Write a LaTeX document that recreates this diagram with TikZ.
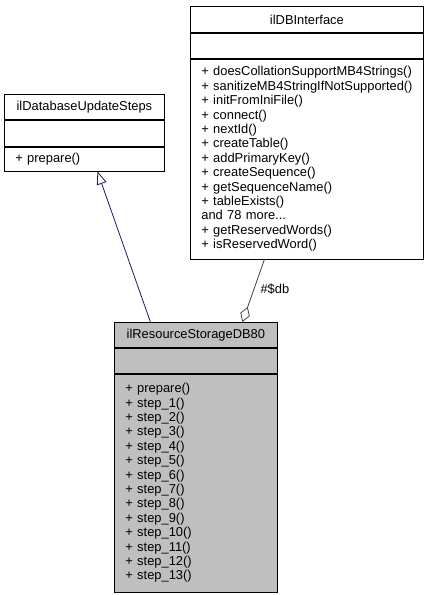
\documentclass[tikz,border=0pt]{standalone}
\usepackage{fontspec}
\setmainfont{Liberation Sans}
\usetikzlibrary{positioning,arrows.meta}
\definecolor{midnight}{HTML}{191970}
\definecolor{aggrgray}{HTML}{404040}
\definecolor{classfill}{HTML}{BFBFBF}
\newcommand{\rowh}{25pt}

\begin{document}
\begin{tikzpicture}[x=1pt,y=-1pt,
    font=\fontsize{12.9}{14.4}\selectfont,
    cls/.style={draw=black, line width=0.8pt, rectangle, inner sep=0pt, anchor=north west, fill=white},
    title/.style={cls, minimum height=\rowh, align=center},
    ops/.style={cls, align=left, inner xsep=11pt},
    inherit/.style={draw=midnight, line width=0.8pt, -{Triangle[open, length=13pt, width=10pt]}},
    aggr/.style={draw=aggrgray, line width=0.8pt, -{Diamond[open, length=16pt, width=10pt]}}]
    \useasboundingbox (0,0) rectangle (431,595);

    % ilDatabaseUpdateSteps
    \node[title, minimum width=160, minimum height=25] (steps-title) at (4,94) {ilDatabaseUpdateSteps};
    \node[cls, minimum width=160, minimum height=26, below=0pt of steps-title] (steps-attr) {};
    \node[ops, text width=138pt, minimum height=24, below=0pt of steps-attr] (steps-ops) {+ prepare()};

    % ilDBInterface
    \node[title, minimum width=233, minimum height=26] (db-title) at (190,6) {ilDBInterface};
    \node[cls, minimum width=233, minimum height=25, below=0pt of db-title] (db-attr) {};
    \node[ops, text width=211pt, minimum height=200, below=0pt of db-attr] (db-ops) {%
        + doesCollationSupportMB4Strings()\\
        \mbox{+ sanitizeMB4StringIfNotSupported()}\\
        + initFromIniFile()\\
        + connect()\\
        + nextId()\\
        + createTable()\\
        + addPrimaryKey()\\
        + createSequence()\\
        + getSequenceName()\\
        + tableExists()\\
        and 78 more...\\
        + getReservedWords()\\
        + isReservedWord()};

    % ilResourceStorageDB80
    \node[title, fill=classfill, minimum width=163] (res-title) at (114,322) {ilResourceStorageDB80};
    \node[cls, fill=classfill, minimum width=163, minimum height=25, below=0pt of res-title] (res-attr) {};
    \node[ops, fill=classfill, text width=141pt, minimum height=218, below=0pt of res-attr] (res-ops) {%
        + prepare()\\
        + step\_1()\\
        + step\_2()\\
        + step\_3()\\
        + step\_4()\\
        + step\_5()\\
        + step\_6()\\
        + step\_7()\\
        + step\_8()\\
        + step\_9()\\
        + step\_10()\\
        + step\_11()\\
        + step\_12()\\
        + step\_13()};

    % connectors
    \draw[inherit] ([xshift=-45.5pt]res-title.north) -- ([xshift=13pt]steps-ops.south);
    \draw[aggr] ([xshift=-42.5pt]db-ops.south) -- node[right=3pt, pos=0.48, text=black] {\#\$db} ([xshift=46.5pt]res-title.north);

\end{tikzpicture}
\end{document}
